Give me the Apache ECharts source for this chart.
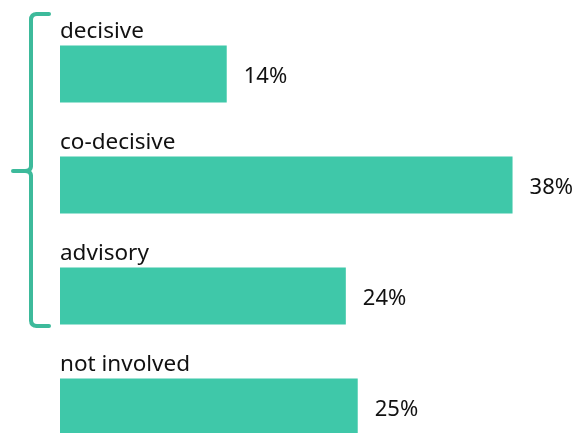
<!DOCTYPE html>
<html>
<head>
<meta charset="utf-8">
<script src="https://cdn.jsdelivr.net/npm/echarts@6/dist/echarts.min.js"></script>
<style>
html,body{margin:0;padding:0;background:#fff;overflow:hidden;}
#chart{width:584px;height:463px;}
</style>
</head>
<body>
<div id="chart"></div>
<script>
var categories = ['decisive', 'co-decisive', 'advisory', 'not involved'];
var values = [14, 38, 24, 25];

var braceStyle = { fill: 'none', stroke: '#3DBA9B', lineWidth: 4, lineCap: 'round' };
function seg(x1, y1, x2, y2) {
  return { type: 'line', shape: { x1: x1, y1: y1, x2: x2, y2: y2 }, style: braceStyle };
}
function curve(x1, y1, cx, cy, x2, y2) {
  return { type: 'bezierCurve', shape: { x1: x1, y1: y1, cpx1: cx, cpy1: cy, x2: x2, y2: y2 }, style: braceStyle };
}

var chart = echarts.init(document.getElementById('chart'));
chart.setOption({
  animation: false,
  grid: { left: 60, right: 0, top: 18.5, height: 444 },
  xAxis: { type: 'value', min: 0, max: 44, show: false },
  yAxis: {
    type: 'category',
    inverse: true,
    data: categories,
    axisLine: { show: false },
    axisTick: { show: false },
    splitLine: { show: false },
    axisLabel: {
      inside: true,
      margin: 0,
      align: 'left',
      verticalAlign: 'bottom',
      padding: [0, 0, 30, 0],
      lineHeight: 24,
      fontFamily: 'Noto Sans',
      fontSize: 22.5,
      color: '#111'
    }
  },
  series: [{
    type: 'bar',
    data: values,
    barWidth: 57,
    itemStyle: { color: '#3FC8A9' },
    label: {
      show: true,
      position: 'right',
      distance: 17,
      offset: [0, 3],
      formatter: '{c}%',
      fontFamily: 'Noto Sans',
      fontSize: 22,
      color: '#111'
    }
  }],
  graphic: [
    seg(37, 14, 49, 14),
    curve(37, 14, 31, 14, 31, 20),
    seg(31, 20, 31, 166),
    curve(31, 166, 31, 171, 25, 171),
    seg(25, 171, 13, 171),
    curve(25, 171, 31, 171, 31, 176),
    seg(31, 176, 31, 320),
    curve(31, 320, 31, 326, 37, 326),
    seg(37, 326, 49, 326)
  ]
});
</script>
</body>
</html>
